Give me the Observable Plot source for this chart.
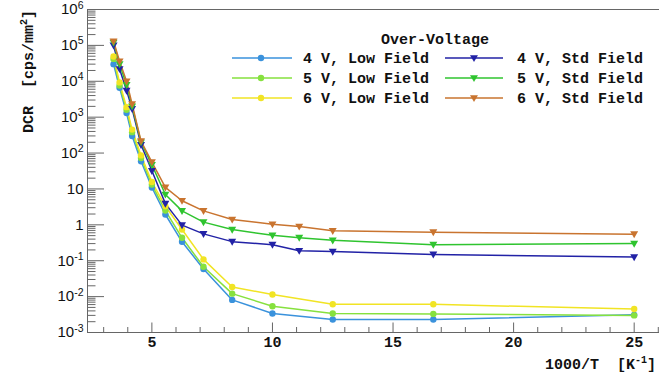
<!DOCTYPE html>
<html><head><meta charset="utf-8">
<script src="https://cdn.jsdelivr.net/npm/d3@7"></script>
<script src="https://cdn.jsdelivr.net/npm/@observablehq/plot@0.6"></script>
<style>body{margin:0;background:#fff} svg{display:block}</style>
</head><body><div id="chart"></div>
<script>
// x values: 1000/T [1/K]
const xLow = [3.41, 3.66, 3.95, 4.18, 4.55, 5.0, 5.56, 6.25, 7.14, 8.33, 10.0, 12.5, 16.67, 25.0];
const xStd = [3.41, 3.66, 3.95, 4.18, 4.55, 5.0, 5.56, 6.25, 7.14, 8.33, 10.0, 11.11, 12.5, 16.67, 25.0];
// DCR [cps/mm^2]
const dcr4Low = [3.0e4, 6.6e3, 1.3e3, 300, 59, 11, 1.94, 0.337, 0.059, 0.0081, 0.0034, 0.0023, 0.0023, 0.0031];
const dcr5Low = [4.2e4, 7.6e3, 1.6e3, 383, 73, 13.2, 2.5, 0.435, 0.068, 0.0121, 0.0054, 0.0034, 0.0033, 0.0030];
const dcr6Low = [4.9e4, 9.3e3, 1.9e3, 450, 86, 15.6, 3.3, 0.74, 0.109, 0.0186, 0.0114, 0.0061, 0.0061, 0.0045];
const dcr4Std = [1.0e5, 2.2e4, 5.5e3, 1.7e3, 170, 32, 3.9, 0.98, 0.56, 0.34, 0.28, 0.19, 0.18, 0.15, 0.126];
const dcr5Std = [1.2e5, 3.0e4, 7.9e3, 2.0e3, 200, 47, 7.0, 2.45, 1.19, 0.74, 0.51, 0.44, 0.37, 0.28, 0.30];
const dcr6Std = [1.3e5, 3.6e4, 1.0e4, 2.3e3, 215, 56, 11.1, 4.7, 2.45, 1.41, 1.04, 0.90, 0.68, 0.625, 0.55];

const seriesNames = ["4 V, Low Field", "5 V, Low Field", "6 V, Low Field", "4 V, Std Field", "5 V, Std Field", "6 V, Std Field"];
const seriesColors = ["#3a92dc", "#86e13e", "#f1e424", "#2222a6", "#2fc42f", "#c9742f"];
const seriesMarkers = ["circle", "circle", "circle", "triangle-down", "triangle-down", "triangle-down"];

const xTicksMajor = [5, 10, 15, 20, 25];
const xTickLabels = ["5", "10", "15", "20", "25"];
const yTicksMajor = [1e-3, 1e-2, 1e-1, 1, 10, 1e2, 1e3, 1e4, 1e5, 1e6];
const yTickLabels = ["10^-3", "10^-2", "10^-1", "1", "10", "10^2", "10^3", "10^4", "10^5", "10^6"];
const legendTitle = "Over-Voltage";
const yTitle = ["DCR  [cps/mm", "2", "]"];
const xTitle = ["1000/T  [K", "-1", "]"];

const W = 659, H = 380, mL = 87, mR = 0, mT = 9, mB = 48;
const fw = W - mL - mR, fh = H - mT - mB;
const axisColor = "#666";
const mono = "'Liberation Mono', monospace";

const xMinor = d3.range(3, 27).filter(v => !xTicksMajor.includes(v));
const yMinor = [];
yTicksMajor.slice(0, -1).forEach(d => { for (let k = 2; k <= 9; k++) yMinor.push(d * k); });

const invTri = {draw(ctx, size) {
  const s = Math.sqrt(size);
  const a = 0.56 * s, b = 0.40 * s, c = 0.58 * s;
  ctx.moveTo(-a, -b); ctx.lineTo(a, -b); ctx.lineTo(0, c); ctx.closePath();
}};

const xsList = [xLow, xLow, xLow, xStd, xStd, xStd];
const ysList = [dcr4Low, dcr5Low, dcr6Low, dcr4Std, dcr5Std, dcr6Std];
const series = seriesNames.map((name, i) => ({
  name, color: seriesColors[i], marker: seriesMarkers[i],
  rows: xsList[i].map((x, j) => ({x, y: ysList[i][j]}))
}));

const marks = [
  Plot.ruleX([2.33], {stroke: axisColor}),
  Plot.ruleY([1e-3], {stroke: axisColor}),
  Plot.ruleY([1e6], {stroke: axisColor}),
  Plot.tickX(xMinor, {x: d => d, stroke: axisColor, insetTop: fh - 5}),
  Plot.tickX(xTicksMajor, {x: d => d, stroke: axisColor, insetTop: fh - 9.5}),
  Plot.tickY(yMinor, {y: d => d, stroke: axisColor, insetRight: fw - 8.5}),
  Plot.tickY(yTicksMajor, {y: d => d, stroke: axisColor, insetRight: fw - 17}),
  Plot.text(xTicksMajor, {x: d => d, frameAnchor: "bottom", dy: 14, text: (d, i) => xTickLabels[i],
    fontFamily: mono, fontSize: 15, fontWeight: "bold", fill: "#111"}),
  Plot.text(yTicksMajor, {y: d => d, frameAnchor: "left", dx: -4, textAnchor: "end", text: (d, i) => yTickLabels[i],
    fontFamily: "'Liberation Sans', Arial, sans-serif", fontSize: 15, fill: "#111"})
];
series.forEach(s => {
  marks.push(Plot.line(s.rows, {x: "x", y: "y", stroke: s.color, strokeWidth: 1.5}));
});
series.forEach(s => {
  if (s.marker === "circle") marks.push(Plot.dot(s.rows, {x: "x", y: "y", fill: s.color, r: 3.2, symbol: "circle"}));
  else marks.push(Plot.dot(s.rows, {x: "x", y: "y", fill: s.color, r: 4, symbol: invTri}));
});

const svg = Plot.plot({
  width: W, height: H,
  marginLeft: mL, marginRight: mR, marginTop: mT, marginBottom: mB,
  style: {background: "white", overflow: "visible"},
  x: {type: "linear", domain: [2.33, 26.05], axis: null},
  y: {type: "log", domain: [1e-3, 1e6], axis: null},
  marks
});

// superscripts in tick labels
d3.select(svg).selectAll("text").each(function() {
  const t = this.textContent;
  const i = t.indexOf("^");
  if (i < 0) return;
  this.textContent = t.slice(0, i);
  d3.select(this).append("tspan").attr("dy", "-0.55em").attr("font-size", "10.5px").text(t.slice(i + 1));
});

const root = d3.select(svg);
// y title
const yt = root.append("text")
  .attr("transform", "translate(28,10) rotate(-90)")
  .attr("text-anchor", "end").attr("dy", "0.35em")
  .style("white-space", "pre")
  .attr("font-family", mono).attr("font-size", 15).attr("font-weight", "bold").attr("fill", "#111");
yt.append("tspan").text(yTitle[0]);
yt.append("tspan").attr("dy", -6).attr("font-size", 10).text(yTitle[1]);
yt.append("tspan").attr("dy", 6).text(yTitle[2]);
// x title
const xt = root.append("text")
  .attr("x", 656).attr("y", 364).attr("dy", "0.35em")
  .attr("text-anchor", "end").style("white-space", "pre")
  .attr("font-family", mono).attr("font-size", 15).attr("font-weight", "bold").attr("fill", "#111");
xt.append("tspan").text(xTitle[0]);
xt.append("tspan").attr("dy", -6).attr("font-size", 10).text(xTitle[1]);
xt.append("tspan").attr("dy", 6).text(xTitle[2]);

// legend
const lg = root.append("g").attr("font-family", mono).attr("font-size", 15).attr("font-weight", "bold").attr("fill", "#111");
lg.append("text").attr("x", 435).attr("y", 39).attr("dy", "0.35em").attr("text-anchor", "middle").text(legendTitle);
const rowY = [58, 78, 98];
const colX = [{l0: 232, l1: 292, m: 261, t: 303}, {l0: 445, l1: 503, m: 474, t: 517}];
series.forEach((s, i) => {
  const c = colX[i < 3 ? 0 : 1], y = rowY[i % 3];
  lg.append("line").attr("x1", c.l0).attr("x2", c.l1).attr("y1", y).attr("y2", y)
    .attr("stroke", s.color).attr("stroke-width", 1.5);
  if (s.marker === "circle") lg.append("circle").attr("cx", c.m).attr("cy", y).attr("r", 3.2).attr("fill", s.color);
  else {
    const p = d3.path(); invTri.draw(p, 16 * Math.PI);
    lg.append("path").attr("d", p.toString()).attr("transform", `translate(${c.m},${y})`).attr("fill", s.color);
  }
  lg.append("text").attr("x", c.t).attr("y", y).attr("dy", "0.35em").attr("text-anchor", "start")
    .style("white-space", "pre").text(s.name);
});

document.getElementById("chart").appendChild(svg);
</script>
</body></html>
